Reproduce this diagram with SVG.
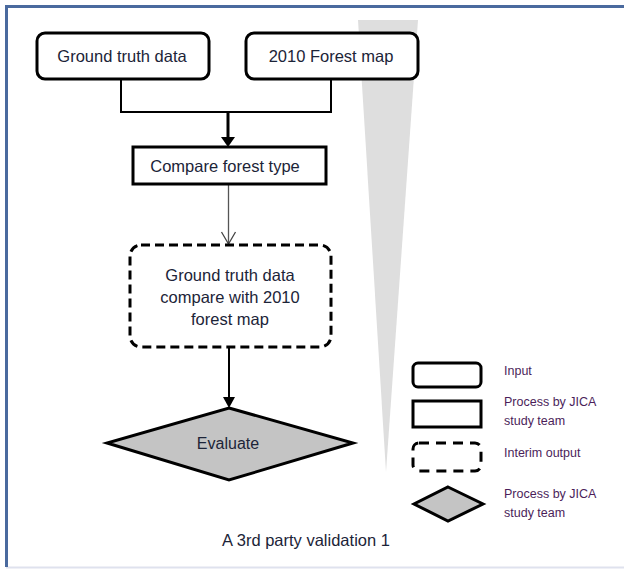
<svg xmlns="http://www.w3.org/2000/svg" width="624" height="570" viewBox="0 0 624 570">
<style>
.box{fill:#fff;stroke:#000;stroke-width:3}
.dash{fill:#fff;stroke:#000;stroke-width:3;stroke-dasharray:9 5}
.dia{fill:#c4c4c4;stroke:#000;stroke-width:3;stroke-linejoin:miter}
.t{font-family:"Liberation Sans",Arial,sans-serif;font-size:16.5px;fill:#1c2438;text-anchor:middle}
.lg{font-family:"Liberation Sans",Arial,sans-serif;font-size:12.5px;fill:#4b1e5a}
.ln{fill:none;stroke:#000;stroke-width:2}
.head{fill:#000}
</style>
<rect width="624" height="570" fill="#fff"/>
<line x1="6" y1="567.5" x2="624" y2="567.5" stroke="#dfe2ee" stroke-width="2"/>
<path d="M6.5,567 V6.5 H624" fill="none" stroke="#4a6a9e" stroke-width="3"/>
<polygon points="358,20 418,20 386,472" fill="#dedede"/>
<g id="connectors">
<polyline class="ln" points="121,79 121,112 331,112 331,79"/>
<line x1="228" y1="112" x2="228" y2="138" stroke="#000" stroke-width="3"/>
<path class="head" d="M221,137 L235,137 L228,147 Z"/>
<line x1="228.5" y1="184" x2="228.5" y2="244" stroke="#555" stroke-width="1.3"/>
<polyline points="221.5,232 228.5,244 235.5,232" fill="none" stroke="#444" stroke-width="1.3"/>
<line x1="229" y1="347" x2="229" y2="399" stroke="#000" stroke-width="2"/>
<path class="head" d="M223,397 L235,397 L229,408 Z"/>
</g>
<g id="ground-truth">
<rect class="box" x="37" y="33" width="172" height="46" rx="8"/>
<text class="t" x="122" y="62">Ground truth data</text>
</g>
<g id="forest-map">
<rect class="box" x="246" y="33" width="172" height="46" rx="8"/>
<text class="t" x="331" y="62">2010 Forest map</text>
</g>
<g id="compare">
<rect class="box" x="133" y="147" width="193" height="37"/>
<text class="t" x="225" y="172">Compare forest type</text>
</g>
<g id="interim">
<rect class="dash" x="130" y="245" width="201" height="102" rx="11"/>
<text class="t" x="230" y="281">Ground truth data</text>
<text class="t" x="230" y="303">compare with 2010</text>
<text class="t" x="230" y="325">forest map</text>
</g>
<g id="evaluate">
<polygon class="dia" points="229,408 353,443 229,480 107,443"/>
<text class="t" x="228" y="449" style="font-size:16px">Evaluate</text>
</g>
<text class="t" x="306" y="546">A 3rd party validation 1</text>
<g id="legend">
<rect class="box" x="413" y="363" width="68" height="24" rx="5"/>
<rect class="box" x="413" y="401" width="68" height="26"/>
<rect x="413" y="443" width="68" height="28" rx="6" fill="#fff" stroke="#000" stroke-width="3" stroke-dasharray="10 7"/>
<polygon class="dia" points="448,487 483,504 448,521 414,504"/>
<text class="lg" x="504" y="375">Input</text>
<text class="lg" x="504" y="406">Process by JICA</text>
<text class="lg" x="504" y="425">study team</text>
<text class="lg" x="504" y="457">Interim output</text>
<text class="lg" x="504" y="498">Process by JICA</text>
<text class="lg" x="504" y="517">study team</text>
</g>
</svg>
